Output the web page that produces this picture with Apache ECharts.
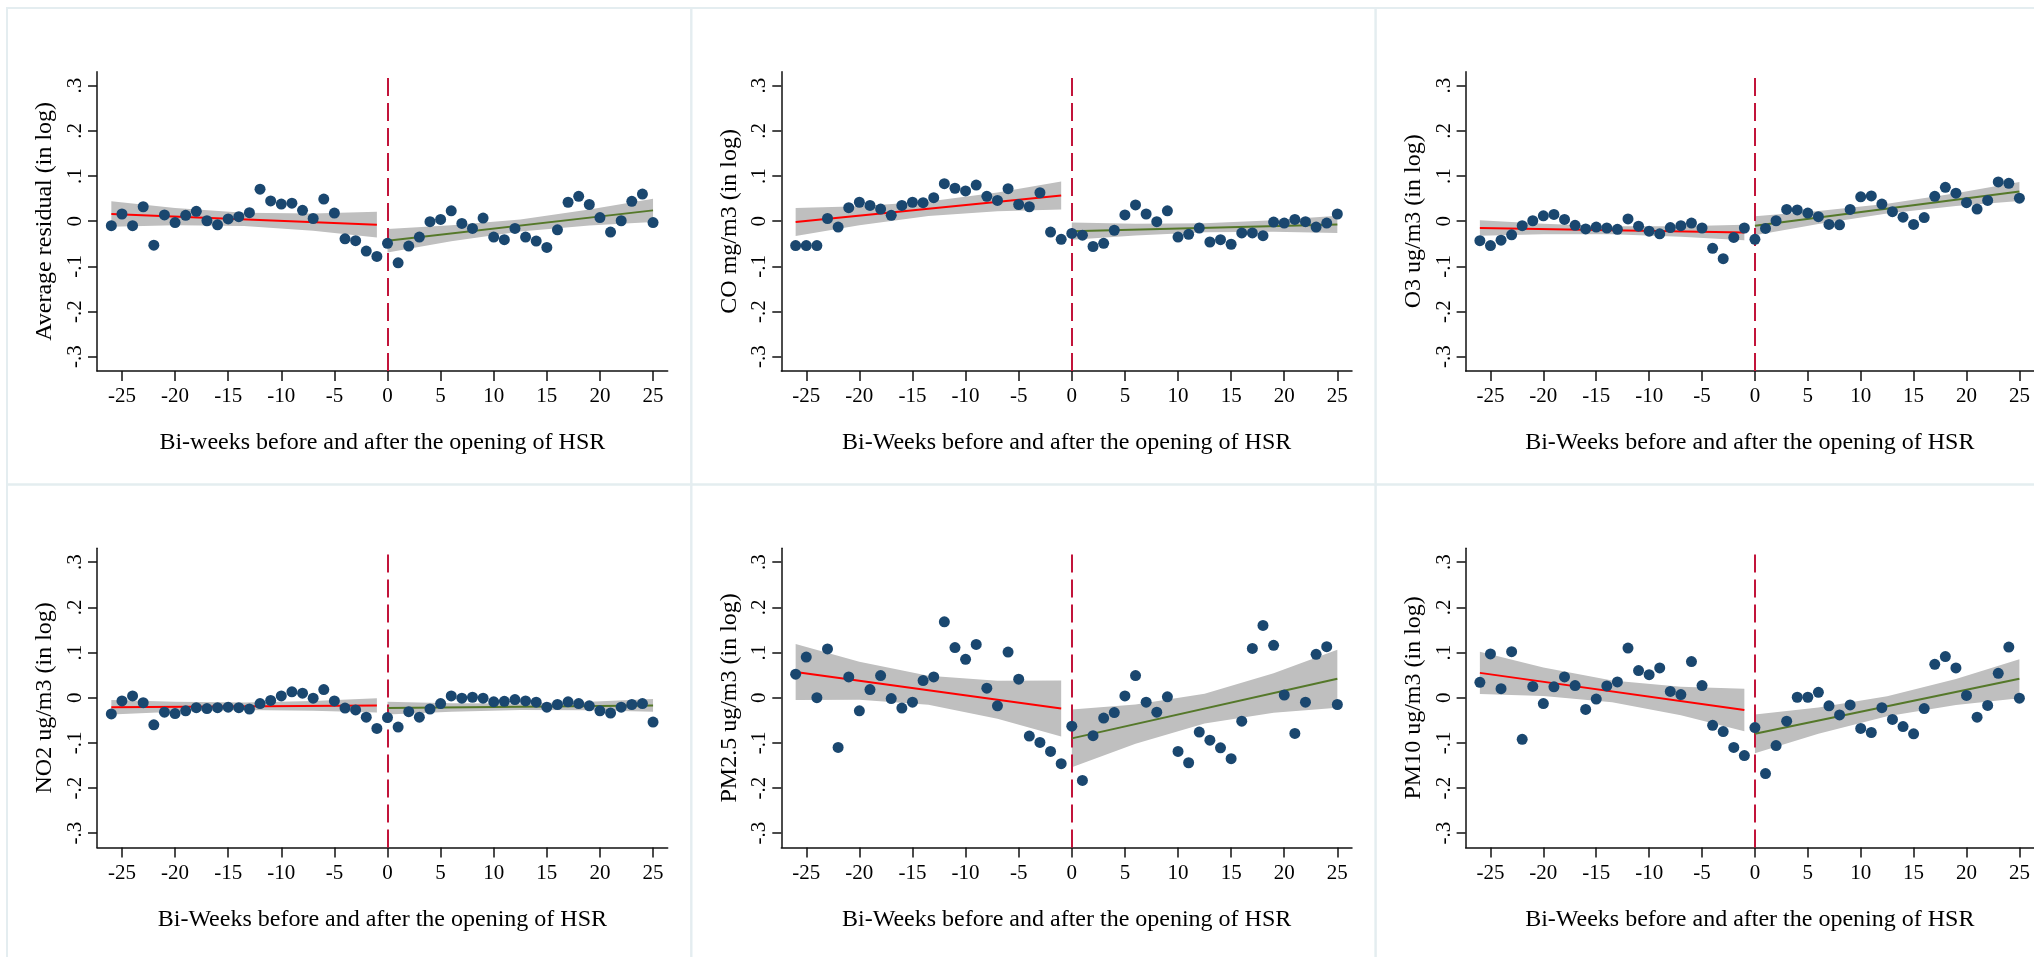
<!DOCTYPE html>
<html>
<head>
<meta charset="utf-8">
<script src="https://cdn.jsdelivr.net/npm/echarts@6/dist/echarts.min.js"></script>
<style>
  html, body { margin: 0; padding: 0; background: #ffffff; }
  #chart { width: 2034px; height: 957px; }
</style>
</head>
<body>
<div id="chart"></div>
<script>
// ---- data -------------------------------------------------------------
const weeks = [-26, -25, -24, -23, -22, -21, -20, -19, -18, -17, -16, -15, -14,
  -13, -12, -11, -10, -9, -8, -7, -6, -5, -4, -3, -2, -1,
  0, 1, 2, 3, 4, 5, 6, 7, 8, 9, 10, 11, 12,
  13, 14, 15, 16, 17, 18, 19, 20, 21, 22, 23, 24, 25];

const xTickValues = [-25, -20, -15, -10, -5, 0, 5, 10, 15, 20, 25];
const yTickValues = [-0.3, -0.2, -0.1, 0, 0.1, 0.2, 0.3];
const yTickLabels = ['-.3', '-.2', '-.1', '0', '.1', '.2', '.3'];
const openingWeek = 0;

const yTitles = [
  'Average residual (in log)',
  'CO mg/m3 (in log)',
  'O3 ug/m3 (in log)',
  'NO2 ug/m3 (in log)',
  'PM2.5 ug/m3 (in log)',
  'PM10 ug/m3 (in log)'
];
const xTitles = [
  'Bi-weeks before and after the opening of HSR',
  'Bi-Weeks before and after the opening of HSR',
  'Bi-Weeks before and after the opening of HSR',
  'Bi-Weeks before and after the opening of HSR',
  'Bi-Weeks before and after the opening of HSR',
  'Bi-Weeks before and after the opening of HSR'
];

// bi-weekly means
const residualValues = [-0.010, 0.016, -0.010, 0.032, -0.053, 0.014, -0.003, 0.013, 0.022, 0.001, -0.008, 0.005, 0.010,
  0.019, 0.071, 0.045, 0.038, 0.040, 0.024, 0.006, 0.049, 0.018, -0.039, -0.043, -0.066, -0.078,
  -0.049, -0.092, -0.055, -0.035, -0.001, 0.004, 0.023, -0.005, -0.016, 0.007, -0.035, -0.041, -0.016,
  -0.035, -0.044, -0.058, -0.019, 0.042, 0.055, 0.037, 0.008, -0.024, 0.001, 0.044, 0.060, -0.003];
const coValues = [-0.054, -0.054, -0.054, 0.006, -0.013, 0.030, 0.042, 0.035, 0.027, 0.013, 0.035, 0.042, 0.041,
  0.052, 0.083, 0.073, 0.067, 0.080, 0.055, 0.046, 0.072, 0.037, 0.032, 0.063, -0.024, -0.040,
  -0.027, -0.031, -0.056, -0.049, -0.020, 0.014, 0.036, 0.016, -0.001, 0.023, -0.035, -0.029, -0.015,
  -0.046, -0.041, -0.051, -0.026, -0.026, -0.032, -0.002, -0.004, 0.004, -0.001, -0.013, -0.004, 0.016];
const o3Values = [-0.043, -0.054, -0.042, -0.030, -0.010, 0.001, 0.012, 0.015, 0.004, -0.009, -0.017, -0.013, -0.015,
  -0.018, 0.005, -0.011, -0.022, -0.028, -0.014, -0.010, -0.004, -0.015, -0.060, -0.083, -0.036, -0.015,
  -0.040, -0.016, 0.001, 0.026, 0.025, 0.018, 0.010, -0.007, -0.008, 0.026, 0.054, 0.056, 0.038,
  0.021, 0.009, -0.007, 0.008, 0.055, 0.075, 0.062, 0.041, 0.027, 0.046, 0.087, 0.084, 0.051];
const no2Values = [-0.036, -0.007, 0.004, -0.011, -0.060, -0.032, -0.035, -0.029, -0.022, -0.024, -0.022, -0.021, -0.022,
  -0.025, -0.013, -0.006, 0.004, 0.013, 0.010, -0.001, 0.018, -0.007, -0.023, -0.027, -0.043, -0.068,
  -0.044, -0.065, -0.031, -0.043, -0.025, -0.013, 0.004, -0.001, 0.001, -0.001, -0.009, -0.008, -0.004,
  -0.007, -0.010, -0.021, -0.015, -0.009, -0.013, -0.018, -0.029, -0.034, -0.021, -0.015, -0.013, -0.054];
const pm25Values = [0.052, 0.090, 0.000, 0.108, -0.110, 0.046, -0.029, 0.018, 0.049, -0.002, -0.023, -0.010, 0.038,
  0.046, 0.168, 0.111, 0.085, 0.118, 0.021, -0.018, 0.101, 0.041, -0.085, -0.099, -0.119, -0.146,
  -0.063, -0.183, -0.084, -0.045, -0.033, 0.004, 0.049, -0.010, -0.032, 0.002, -0.119, -0.144, -0.076,
  -0.094, -0.111, -0.135, -0.052, 0.109, 0.160, 0.116, 0.006, -0.079, -0.010, 0.096, 0.113, -0.015];
const pm10Values = [0.034, 0.097, 0.020, 0.102, -0.092, 0.025, -0.013, 0.024, 0.046, 0.027, -0.026, -0.003, 0.026,
  0.035, 0.110, 0.060, 0.051, 0.066, 0.014, 0.007, 0.080, 0.027, -0.061, -0.075, -0.110, -0.128,
  -0.066, -0.168, -0.106, -0.052, 0.001, 0.001, 0.012, -0.018, -0.038, -0.016, -0.068, -0.077, -0.022,
  -0.048, -0.064, -0.080, -0.024, 0.074, 0.091, 0.066, 0.005, -0.043, -0.017, 0.054, 0.112, -0.001];

// linear fits before / after the opening (end points)
const fitPreX = [-26, -1];
const fitPostX = [0, 25];
const residualFitPre = [0.016, -0.008];
const residualFitPost = [-0.043, 0.024];
const coFitPre = [-0.002, 0.057];
const coFitPost = [-0.022, -0.007];
const o3FitPre = [-0.015, -0.025];
const o3FitPost = [-0.010, 0.066];
const no2FitPre = [-0.021, -0.017];
const no2FitPost = [-0.023, -0.017];
const pm25FitPre = [0.057, -0.024];
const pm25FitPost = [-0.090, 0.042];
const pm10FitPre = [0.055, -0.027];
const pm10FitPost = [-0.080, 0.042];

// 95% confidence bands of the fits
const bandPreX = [-26, -20, -13.5, -7, -1];
const bandPostX = [0, 6, 12.5, 19, 25];
const residualBandPreUpper = [0.044, 0.029, 0.0185, 0.017, 0.021];
const residualBandPreLower = [-0.012, -0.009, -0.0105, -0.021, -0.036];
const residualBandPostUpper = [-0.017, -0.0092, 0.0039, 0.0257, 0.050];
const residualBandPostLower = [-0.069, -0.0446, -0.0229, -0.0097, -0.002];
const coBandPreUpper = [0.029, 0.0332, 0.0435, 0.0638, 0.088];
const coBandPreLower = [-0.033, -0.0088, 0.0115, 0.0218, 0.026];
const coBandPostUpper = [-0.003, -0.0054, -0.0047, 0.0024, 0.012];
const coBandPostLower = [-0.041, -0.0314, -0.0243, -0.0236, -0.026];
const o3BandPreUpper = [0.002, -0.0058, -0.0112, -0.011, -0.008];
const o3BandPreLower = [-0.032, -0.029, -0.0288, -0.0342, -0.042];
const o3BandPostUpper = [0.011, 0.0225, 0.0388, 0.0621, 0.087];
const o3BandPostLower = [-0.031, -0.0061, 0.0172, 0.0335, 0.045];
const no2BandPreUpper = [-0.005, -0.009, -0.0107, -0.007, -0.001];
const no2BandPreLower = [-0.037, -0.031, -0.0273, -0.029, -0.033];
const no2BandPostUpper = [-0.009, -0.0121, -0.0128, -0.0089, -0.003];
const no2BandPostLower = [-0.037, -0.0311, -0.0272, -0.0279, -0.031];
const pm25BandPreUpper = [0.119, 0.0796, 0.0485, 0.0374, 0.038];
const pm25BandPreLower = [-0.005, -0.0044, -0.0155, -0.0466, -0.086];
const pm25BandPostUpper = [-0.026, -0.0148, 0.009, 0.0539, 0.106];
const pm25BandPostLower = [-0.154, -0.1018, -0.057, -0.0331, -0.022];
const pm10BandPreUpper = [0.102, 0.067, 0.038, 0.0244, 0.020];
const pm10BandPreLower = [0.008, 0.0036, -0.010, -0.039, -0.074];
const pm10BandPostUpper = [-0.037, -0.0217, 0.003, 0.0417, 0.085];
const pm10BandPostLower = [-0.123, -0.0797, -0.041, -0.0163, -0.001];

// ---- panels ------------------------------------------------------------
const panels = [
  { values: residualValues, fitPre: residualFitPre, fitPost: residualFitPost,
    preUp: residualBandPreUpper, preLo: residualBandPreLower, postUp: residualBandPostUpper, postLo: residualBandPostLower },
  { values: coValues, fitPre: coFitPre, fitPost: coFitPost,
    preUp: coBandPreUpper, preLo: coBandPreLower, postUp: coBandPostUpper, postLo: coBandPostLower },
  { values: o3Values, fitPre: o3FitPre, fitPost: o3FitPost,
    preUp: o3BandPreUpper, preLo: o3BandPreLower, postUp: o3BandPostUpper, postLo: o3BandPostLower },
  { values: no2Values, fitPre: no2FitPre, fitPost: no2FitPost,
    preUp: no2BandPreUpper, preLo: no2BandPreLower, postUp: no2BandPostUpper, postLo: no2BandPostLower },
  { values: pm25Values, fitPre: pm25FitPre, fitPost: pm25FitPost,
    preUp: pm25BandPreUpper, preLo: pm25BandPreLower, postUp: pm25BandPostUpper, postLo: pm25BandPostLower },
  { values: pm10Values, fitPre: pm10FitPre, fitPost: pm10FitPost,
    preUp: pm10BandPreUpper, preLo: pm10BandPreLower, postUp: pm10BandPostUpper, postLo: pm10BandPostLower }
];

// ---- styling / layout ---------------------------------------------------
const FONT = '"Liberation Serif", "Times New Roman", serif';
const NAVY = '#1a476f';
const BAND = '#bfbfbf';
const RED = '#ff0000';
const GREEN = '#55782a';
const XLINE = '#c2143a';
const AXIS = '#111111';

const COL_W = 684.3, ROW_H = 476.5;
const GRID_LEFT = 97, GRID_TOP = 71.7, GRID_W = 570.7, GRID_H = 299.3;
const X_MIN = -27.35, X_MAX = 26.38;
const Y_MIN = -0.3316, Y_MAX = 0.331;

const grids = [], xAxes = [], yAxes = [], series = [], graphics = [];

function bandSeries(idx, xs, upper, lower) {
  return {
    type: 'custom',
    xAxisIndex: idx, yAxisIndex: idx,
    silent: true, z: 1,
    data: [[xs[0], upper[0]]],
    renderItem: function (params, api) {
      const pts = [];
      for (let i = 0; i < xs.length; i++) pts.push(api.coord([xs[i], upper[i]]));
      for (let i = xs.length - 1; i >= 0; i--) pts.push(api.coord([xs[i], lower[i]]));
      return { type: 'polygon', shape: { points: pts }, style: { fill: BAND, stroke: null } };
    }
  };
}

panels.forEach(function (p, i) {
  const col = i % 3, row = Math.floor(i / 3);
  const left = GRID_LEFT + COL_W * col;
  const top = GRID_TOP + ROW_H * row;

  graphics.push({
    type: 'rect', silent: true, z: -10,
    shape: { x: 7 + COL_W * col, y: 8 + ROW_H * row, width: COL_W, height: ROW_H },
    style: { fill: null, stroke: '#e4edf0', lineWidth: 2 }
  });

  grids.push({ left: left, top: top, width: GRID_W, height: GRID_H, containLabel: false });

  xAxes.push({
    gridIndex: i, type: 'value', min: X_MIN, max: X_MAX,
    axisLine: { show: true, onZero: false, lineStyle: { color: AXIS, width: 1.5 } },
    axisTick: { show: true, length: 10, customValues: xTickValues, lineStyle: { color: AXIS, width: 1.5 } },
    axisLabel: { show: true, customValues: xTickValues, fontFamily: FONT, fontSize: 21, color: '#000', margin: 15 },
    splitLine: { show: false },
    name: xTitles[i], nameLocation: 'middle', nameGap: 60,
    nameTextStyle: { fontFamily: FONT, fontSize: 24, color: '#000' }
  });

  yAxes.push({
    gridIndex: i, type: 'value', min: Y_MIN, max: Y_MAX,
    axisLine: { show: true, onZero: false, lineStyle: { color: AXIS, width: 1.5 } },
    axisTick: { show: true, length: 9, customValues: yTickValues, lineStyle: { color: AXIS, width: 1.5 } },
    axisLabel: {
      show: true, customValues: yTickValues, rotate: 90, margin: 11,
      fontFamily: FONT, fontSize: 21, color: '#000',
      formatter: function (v) {
        const k = yTickValues.findIndex(function (t) { return Math.abs(t - v) < 1e-9; });
        return k >= 0 ? yTickLabels[k] : '';
      }
    },
    splitLine: { show: false },
    name: yTitles[i], nameLocation: 'middle', nameRotate: 90, nameGap: 40,
    nameTextStyle: { fontFamily: FONT, fontSize: 24, color: '#000' }
  });

  series.push(bandSeries(i, bandPreX, p.preUp, p.preLo));
  series.push(bandSeries(i, bandPostX, p.postUp, p.postLo));

  series.push({
    type: 'line', xAxisIndex: i, yAxisIndex: i, z: 3, silent: true,
    symbol: 'none', lineStyle: { color: RED, width: 2 },
    data: fitPreX.map(function (x, k) { return [x, p.fitPre[k]]; }),
    markLine: {
      silent: true, symbol: 'none', z: 2,
      label: { show: false },
      lineStyle: { color: XLINE, width: 2, type: [18, 7] },
      data: [{ xAxis: openingWeek }]
    }
  });
  series.push({
    type: 'line', xAxisIndex: i, yAxisIndex: i, z: 3, silent: true,
    symbol: 'none', lineStyle: { color: GREEN, width: 2 },
    data: fitPostX.map(function (x, k) { return [x, p.fitPost[k]]; })
  });

  series.push({
    type: 'scatter', xAxisIndex: i, yAxisIndex: i, z: 4, silent: true,
    symbol: 'circle', symbolSize: 11,
    itemStyle: { color: NAVY, opacity: 1 },
    data: weeks.map(function (w, k) { return [w, p.values[k]]; })
  });
});

const chart = echarts.init(document.getElementById('chart'), null, { renderer: 'canvas' });
chart.setOption({
  animation: false,
  backgroundColor: '#ffffff',
  grid: grids,
  xAxis: xAxes,
  yAxis: yAxes,
  series: series,
  graphic: graphics
});
</script>
</body>
</html>
